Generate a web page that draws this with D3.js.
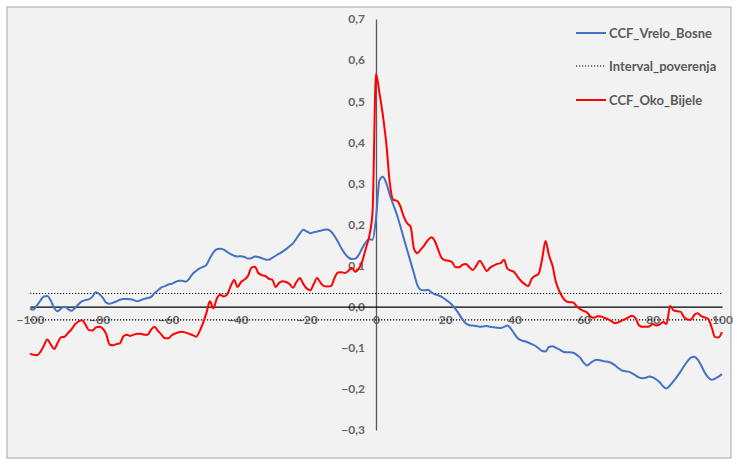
<!DOCTYPE html>
<html>
<head>
<meta charset="utf-8">
<script src="https://cdn.jsdelivr.net/npm/d3@7"></script>
<style>
html,body{margin:0;padding:0;background:#ffffff;}
svg{display:block;}
</style>
</head>
<body>
<svg id="chart" width="737" height="464"></svg>
<script>
const lags = d3.range(-100, 101);
const yTicks = [-0.3,-0.2,-0.1,0,0.1,0.2,0.3,0.4,0.5,0.6,0.7];
const xTicks = [-100,-80,-60,-40,-20,0,20,40,60,80,100];
const seriesNames = ["CCF_Vrelo_Bosne","Interval_poverenja","CCF_Oko_Bijele"];
const confidence = 0.032;

const vreloBosne = [
-0.005,-0.007,0.003,0.015,0.025,0.026,0.015,-0.003,-0.011,-0.004,
0.000,-0.006,-0.010,-0.003,0.006,0.013,0.016,0.018,0.024,0.035,
0.031,0.022,0.010,0.007,0.010,0.013,0.017,0.019,0.019,0.018,
0.016,0.013,0.016,0.019,0.021,0.024,0.033,0.040,0.047,0.050,
0.054,0.056,0.060,0.063,0.063,0.061,0.068,0.080,0.087,0.093,
0.097,0.102,0.118,0.132,0.140,0.141,0.139,0.133,0.128,0.124,
0.122,0.123,0.121,0.117,0.118,0.122,0.121,0.118,0.115,0.114,
0.119,0.124,0.129,0.134,0.140,0.147,0.154,0.166,0.178,0.187,
0.183,0.179,0.181,0.183,0.185,0.187,0.188,0.183,0.172,0.158,
0.142,0.129,0.120,0.116,0.117,0.126,0.142,0.156,0.164,0.163,
0.215,
0.308,0.316,0.300,0.272,0.248,0.225,0.197,0.167,0.138,0.109,
0.080,0.052,0.041,0.040,0.041,0.035,0.030,0.028,0.024,0.018,
0.012,0.004,-0.006,-0.018,-0.031,-0.041,-0.045,-0.046,-0.047,-0.049,
-0.048,-0.047,-0.049,-0.050,-0.051,-0.052,-0.049,-0.046,-0.054,-0.066,
-0.077,-0.082,-0.084,-0.087,-0.091,-0.095,-0.101,-0.108,-0.109,-0.098,
-0.096,-0.100,-0.104,-0.109,-0.111,-0.111,-0.112,-0.117,-0.124,-0.136,
-0.143,-0.137,-0.131,-0.129,-0.131,-0.133,-0.134,-0.137,-0.142,-0.149,
-0.155,-0.157,-0.158,-0.162,-0.167,-0.172,-0.174,-0.173,-0.170,-0.172,
-0.177,-0.184,-0.194,-0.199,-0.191,-0.181,-0.170,-0.158,-0.145,-0.133,
-0.124,-0.122,-0.129,-0.143,-0.160,-0.172,-0.178,-0.175,-0.170,-0.164
];

const okoBijele = [
-0.114,-0.117,-0.118,-0.110,-0.095,-0.080,-0.092,-0.103,-0.088,-0.074,
-0.073,-0.064,-0.055,-0.043,-0.036,-0.033,-0.043,-0.057,-0.058,-0.051,
-0.049,-0.053,-0.066,-0.092,-0.094,-0.091,-0.089,-0.072,-0.068,-0.071,
-0.068,-0.066,-0.066,-0.068,-0.068,-0.056,-0.049,-0.059,-0.068,-0.077,
-0.077,-0.069,-0.065,-0.062,-0.061,-0.063,-0.066,-0.069,-0.073,-0.060,
-0.040,-0.015,0.013,-0.004,0.020,0.029,0.025,0.030,0.050,0.065,
0.048,0.060,0.066,0.075,0.095,0.097,0.082,0.077,0.075,0.068,
0.066,0.048,0.058,0.062,0.060,0.055,0.046,0.060,0.070,0.055,
0.044,0.040,0.055,0.070,0.058,0.050,0.049,0.050,0.070,0.083,
0.084,0.082,0.087,0.095,0.085,0.092,0.110,0.140,0.170,0.230,
0.567,
0.520,0.465,0.395,0.300,0.260,0.258,0.245,0.220,0.203,0.195,
0.140,0.130,0.140,0.150,0.162,0.169,0.160,0.138,0.118,0.113,
0.112,0.108,0.096,0.096,0.102,0.104,0.096,0.089,0.100,0.112,
0.100,0.087,0.095,0.100,0.104,0.106,0.114,0.092,0.088,0.084,
0.072,0.062,0.055,0.050,0.068,0.075,0.080,0.115,0.160,0.125,
0.100,0.060,0.038,0.022,0.013,0.011,0.010,0.001,-0.006,-0.010,
-0.014,-0.024,-0.027,-0.023,-0.024,-0.027,-0.030,-0.035,-0.040,-0.038,
-0.034,-0.030,-0.026,-0.022,-0.028,-0.045,-0.049,-0.049,-0.048,-0.042,
-0.046,-0.043,-0.037,-0.042,0.002,-0.009,-0.011,-0.012,-0.025,-0.031,
-0.032,-0.020,-0.016,-0.023,-0.026,-0.030,-0.050,-0.074,-0.075,-0.062
];

const svg = d3.select("#chart");
const FONT = "Lato, 'Open Sans', sans-serif";

// chart area frame
svg.append("rect").attr("x",7).attr("y",7).attr("width",724).attr("height",451)
  .attr("fill","#f2f2f2").attr("stroke","#a6a6a6").attr("stroke-width",1);

const x = d3.scaleLinear().domain([-100,100]).range([30,722]);
const y = d3.scaleLinear().domain([-0.3,0.7]).range([430,19]);

const fmt = v => d3.format(".1f")(v).replace(".", ",");

// y axis at x=0
const yAxis = svg.append("g").attr("transform",`translate(${x(0)},0)`)
  .call(d3.axisLeft(y).tickValues(yTicks).tickFormat(fmt).tickSize(0).tickPadding(11));
yAxis.select(".domain").attr("stroke","#595959").attr("stroke-width",1.3);
yAxis.selectAll("text").attr("font-family",FONT).attr("font-size",12).attr("font-weight","bold").attr("fill","#666666");

// x axis at y=0
const xAxis = svg.append("g").attr("transform",`translate(0,${y(0)})`)
  .call(d3.axisBottom(x).tickValues(xTicks).tickFormat(d3.format("d")).tickSize(0).tickPadding(9));
xAxis.select(".domain").attr("stroke","#000").attr("stroke-width",1.2);
xAxis.selectAll("text").attr("font-family",FONT).attr("font-size",12).attr("font-weight","bold").attr("fill","#666666");

// confidence interval dotted lines
const ciLine = d3.line().x(d => x(d[0])).y(d => y(d[1]));
[confidence, -confidence].forEach(c => {
  svg.append("path").attr("d", ciLine([[-100,c],[100,c]]))
    .attr("stroke","#000").attr("stroke-width",1.1).attr("stroke-dasharray","1.2,1.8").attr("fill","none");
});

const line = d3.line().x((d,i) => x(lags[i])).y(d => y(d)).curve(d3.curveMonotoneX);
svg.append("path").datum(vreloBosne).attr("d", line)
  .attr("fill","none").attr("stroke","#4472c4").attr("stroke-width",2).attr("stroke-linejoin","round");
svg.append("path").datum(okoBijele).attr("d", line)
  .attr("fill","none").attr("stroke","#ff0000").attr("stroke-width",2).attr("stroke-linejoin","round");

// legend
const legendY = [33, 66, 100];
const legendStyles = [
  {stroke:"#4472c4", dash:null, w:2},
  {stroke:"#000", dash:"1.2,1.8", w:1.1},
  {stroke:"#ff0000", dash:null, w:2}
];
seriesNames.forEach((name,i) => {
  const g = svg.append("g").attr("transform",`translate(0,${legendY[i]})`);
  g.append("line").attr("x1",576).attr("x2",606).attr("y1",0).attr("y2",0)
    .attr("stroke",legendStyles[i].stroke).attr("stroke-width",legendStyles[i].w)
    .attr("stroke-dasharray",legendStyles[i].dash);
  g.append("text").attr("x",609).attr("y",0).attr("dy","0.35em")
    .attr("font-family",FONT).attr("font-size",13).attr("font-weight","bold").attr("fill","#595959").text(name);
});
</script>
</body>
</html>
